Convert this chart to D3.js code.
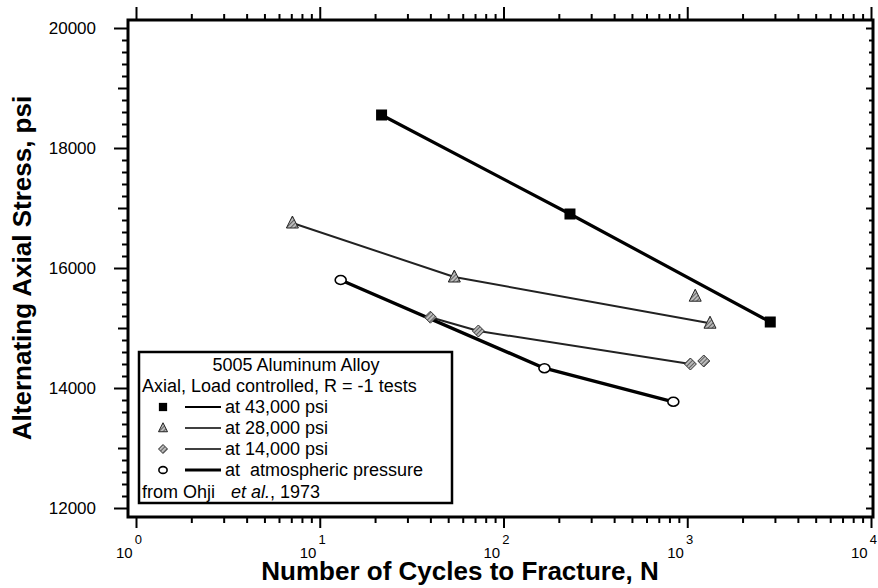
<!DOCTYPE html>
<html>
<head>
<meta charset="utf-8">
<script src="https://cdn.jsdelivr.net/npm/d3@7/dist/d3.min.js"></script>
<style>
  body { margin: 0; background: #fff; }
  svg { display: block; font-family: "Liberation Sans", Arial, sans-serif; }
  svg text { white-space: pre; }
</style>
</head>
<body>
<div id="chart"></div>
<script>
// values (cycles N, stress psi)
const cycles43 = [21.7, 230, 2830];
const stress43 = [18550, 16900, 15100];
const cycles28 = [7.1, 54, 1330];
const stress28 = [16750, 15850, 15080];
const cycles14 = [40, 73, 1040];
const stress14 = [15180, 14950, 14400];
const cyclesAtm = [13, 167, 840];
const stressAtm = [15800, 14330, 13770];
// loose points not joined by a line
const extraCycles28 = [1105];
const extraStress28 = [15530];
const extraCycles14 = [1230];
const extraStress14 = [14450];

const yTickLabels = [12000, 14000, 16000, 18000, 20000];
const xTickPowers = [0, 1, 2, 3, 4];
const legendTitle = ['5005 Aluminum Alloy', 'Axial, Load controlled, R = -1 tests'];
const legendNames = ['at 43,000 psi', 'at 28,000 psi', 'at 14,000 psi', 'at  atmospheric pressure'];

const W = 878, H = 588;
const frame = { left: 128, right: 873, top: 20, bottom: 517 };

const svg = d3.select('#chart').append('svg').attr('width', W).attr('height', H);
svg.append('rect').attr('width', W).attr('height', H).attr('fill', '#fff');

const x = d3.scaleLog().domain([1, 1e4]).range([136, 871]);
const y = d3.scaleLinear().domain([12000, 20000]).range([508, 28]);

// hatch for the grey markers
const defs = svg.append('defs');
const pat = defs.append('pattern').attr('id', 'hatch').attr('patternUnits', 'userSpaceOnUse')
  .attr('width', 3).attr('height', 3).attr('patternTransform', 'rotate(45)');
pat.append('rect').attr('width', 3).attr('height', 3).attr('fill', '#bbb');
pat.append('line').attr('x1', 0).attr('y1', 0).attr('x2', 0).attr('y2', 3).attr('stroke', '#222').attr('stroke-width', 1.2);

// ---- axes ----
const axisG = svg.append('g');

// log ticks along x, top and bottom
const xMinor = [];
for (let p = 0; p < 4; p++) {
  for (let k = 2; k <= 9; k++) xMinor.push(k * Math.pow(10, p));
}
const xMajor = xTickPowers.map(p => Math.pow(10, p));

const bottomAxis = d3.axisBottom(x).tickValues(xMinor).tickSize(6).tickFormat('');
const bottomMajor = d3.axisBottom(x).tickValues(xMajor).tickSize(11).tickFormat('');
const topAxis = d3.axisTop(x).tickValues(xMinor).tickSize(6).tickFormat('');
const topMajor = d3.axisTop(x).tickValues(xMajor).tickSize(13).tickFormat('');

[bottomAxis, bottomMajor].forEach(a => {
  axisG.append('g').attr('transform', `translate(0,${frame.bottom})`).call(a);
});
[topAxis, topMajor].forEach(a => {
  axisG.append('g').attr('transform', `translate(0,${frame.top})`).call(a);
});

// y ticks: minor every 200, medium every 1000, long at labelled
const yMinor = d3.range(12000, 20001, 200).filter(v => v % 1000 !== 0);
const yMid = d3.range(13000, 20000, 2000);
const leftMinor = d3.axisLeft(y).tickValues(yMinor).tickSize(6).tickFormat('');
const leftMid = d3.axisLeft(y).tickValues(yMid).tickSize(10).tickFormat('');
const leftMajor = d3.axisLeft(y).tickValues(yTickLabels).tickSize(14).tickFormat('');
[leftMinor, leftMid, leftMajor].forEach(a => {
  axisG.append('g').attr('transform', `translate(${frame.left},0)`).call(a);
});
const rightMinor = d3.axisLeft(y).tickValues(yMinor).tickSize(4).tickFormat('');
const rightMajor = d3.axisLeft(y).tickValues(yMid.concat(yTickLabels)).tickSize(7).tickFormat('');
[rightMinor, rightMajor].forEach(a => {
  axisG.append('g').attr('transform', `translate(${frame.right},0)`).call(a);
});

axisG.selectAll('.domain').remove();
axisG.selectAll('.tick line').attr('stroke', '#000').attr('stroke-width', 2);

// frame
svg.append('rect')
  .attr('x', frame.left).attr('y', frame.top)
  .attr('width', frame.right - frame.left).attr('height', frame.bottom - frame.top)
  .attr('fill', 'none').attr('stroke', '#000').attr('stroke-width', 3);

// y labels
svg.append('g').selectAll('text').data(yTickLabels).enter().append('text')
  .attr('x', 96).attr('y', d => y(d)).attr('dy', '0.35em')
  .attr('text-anchor', 'end').attr('font-size', '17px').text(d => d);

// x labels: 10 with a raised exponent
const xl = svg.append('g').selectAll('text').data(xTickPowers).enter().append('text')
  .attr('x', d => x(Math.pow(10, d)) - 7).attr('y', 558)
  .attr('text-anchor', 'middle').attr('font-size', '15px');
xl.append('tspan').text('10');
xl.append('tspan').attr('dx', 2).attr('dy', -14).attr('font-size', '13px').text(d => d);

// axis titles
svg.append('text').attr('x', 460).attr('y', 580).attr('text-anchor', 'middle')
  .attr('font-size', '26px').attr('font-weight', 'bold')
  .text('Number of Cycles to Fracture, N');
svg.append('text').attr('transform', 'translate(31,268) rotate(-90)').attr('text-anchor', 'middle')
  .attr('font-size', '26px').attr('font-weight', 'bold')
  .text('Alternating Axial Stress, psi');

// ---- series ----
const series = [
  { n: cycles43, s: stress43, width: 3.2, color: '#000', marker: 'square' },
  { n: cycles28, s: stress28, width: 2, color: '#222', marker: 'triangle' },
  { n: cycles14, s: stress14, width: 2, color: '#222', marker: 'diamond' },
  { n: cyclesAtm, s: stressAtm, width: 3.4, color: '#000', marker: 'circle' }
];
const extras = [
  { n: extraCycles28, s: extraStress28, marker: 'triangle' },
  { n: extraCycles14, s: extraStress14, marker: 'diamond' }
];

const line = d3.line().x(d => x(d[0])).y(d => y(d[1]));
const plotG = svg.append('g');

function drawMarker(g, type, cx, cy, scale) {
  const k = scale || 1;
  if (type === 'square') {
    g.append('rect').attr('x', cx - 5.5 * k).attr('y', cy - 5.5 * k)
      .attr('width', 11 * k).attr('height', 11 * k).attr('fill', '#000');
  } else if (type === 'triangle') {
    g.append('path').attr('d', `M${cx},${cy - 7 * k}L${cx + 6 * k},${cy + 5 * k}L${cx - 6 * k},${cy + 5 * k}Z`)
      .attr('fill', 'url(#hatch)').attr('stroke', '#222').attr('stroke-width', 1);
  } else if (type === 'diamond') {
    g.append('path').attr('d', `M${cx},${cy - 6 * k}L${cx + 6 * k},${cy}L${cx},${cy + 6 * k}L${cx - 6 * k},${cy}Z`)
      .attr('fill', 'url(#hatch)').attr('stroke', '#333').attr('stroke-width', 1);
  } else {
    g.append('ellipse').attr('cx', cx).attr('cy', cy).attr('rx', 5.5 * k).attr('ry', 4.5 * k)
      .attr('fill', '#fff').attr('stroke', '#000').attr('stroke-width', 1.6);
  }
}

series.forEach(sr => {
  const pts = sr.n.map((v, i) => [v, sr.s[i]]);
  plotG.append('path').datum(pts).attr('d', line)
    .attr('fill', 'none').attr('stroke', sr.color).attr('stroke-width', sr.width)
    .attr('stroke-linejoin', 'round');
});
series.concat(extras).forEach(sr => {
  sr.n.forEach((v, i) => drawMarker(plotG, sr.marker, x(v), y(sr.s[i])));
});

// ---- legend ----
const lg = svg.append('g');
lg.append('rect').attr('x', 139).attr('y', 352).attr('width', 313).attr('height', 151)
  .attr('fill', '#fff').attr('stroke', '#000').attr('stroke-width', 2.5);
lg.append('text').attr('x', 296).attr('y', 371).attr('text-anchor', 'middle')
  .attr('font-size', '18px').text(legendTitle[0]);
lg.append('text').attr('x', 142).attr('y', 392).attr('font-size', '18px').text(legendTitle[1]);
legendNames.forEach((name, i) => {
  const cy = 407 + i * 21;
  drawMarker(lg, series[i].marker, 163, cy, 0.75);
  lg.append('line').attr('x1', 185).attr('x2', 221).attr('y1', cy).attr('y2', cy)
    .attr('stroke', '#000').attr('stroke-width', [2, 1.4, 1.4, 3][i]);
  lg.append('text').attr('x', 225).attr('y', cy + 6).attr('font-size', '18px').text(name);
});
const src = lg.append('text').attr('x', 142).attr('y', 498).attr('font-size', '18px');
src.append('tspan').text('from Ohji');
src.append('tspan').attr('dx', 16).attr('font-style', 'italic').text('et al.');
src.append('tspan').text(', 1973');
</script>
</body>
</html>
